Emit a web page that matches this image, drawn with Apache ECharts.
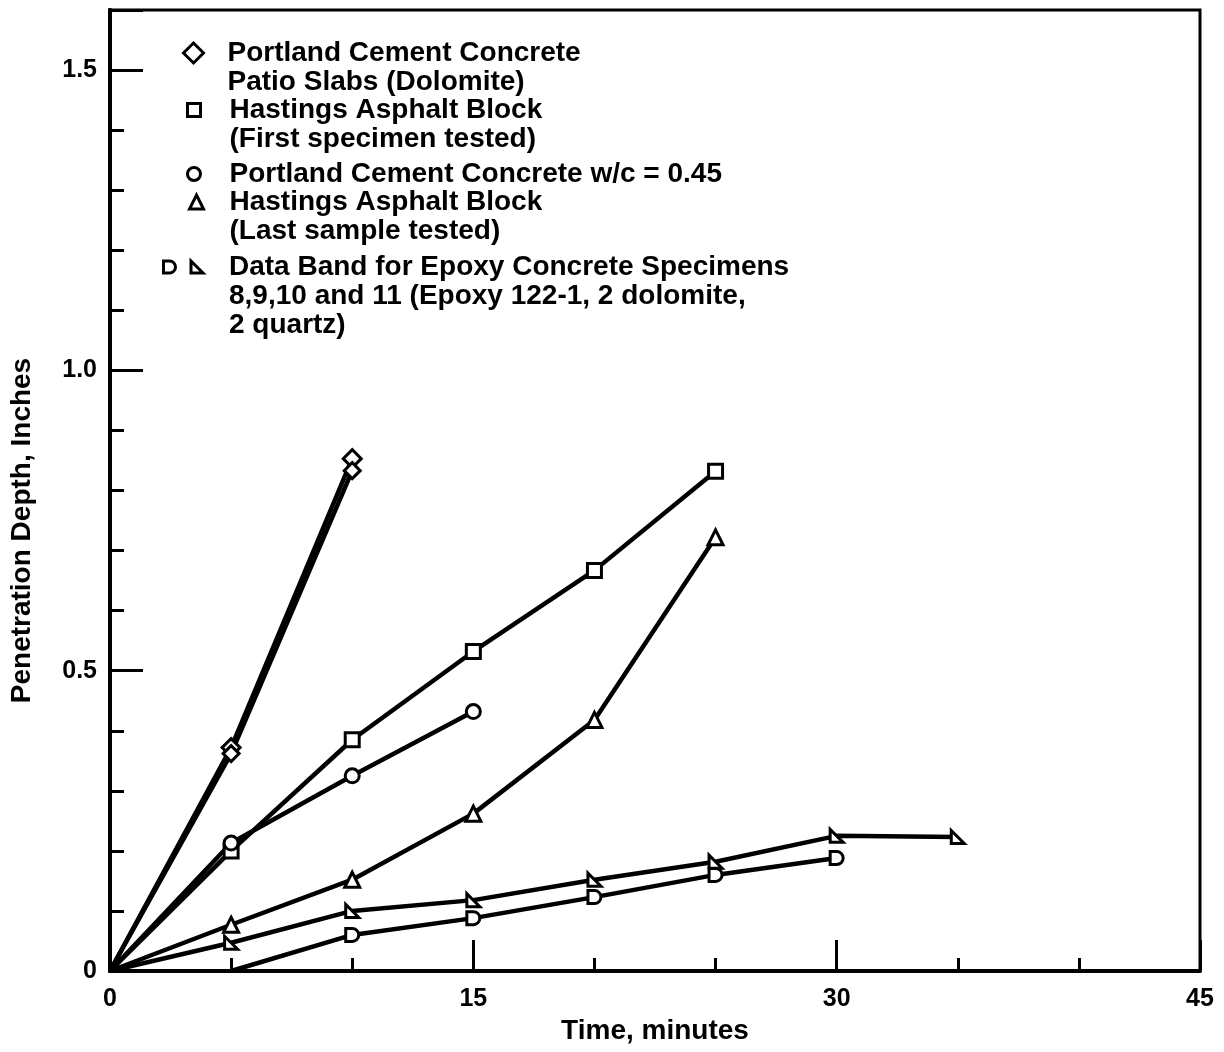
<!DOCTYPE html>
<html>
<head>
<meta charset="utf-8">
<script src="https://cdn.jsdelivr.net/npm/echarts@6/dist/echarts.min.js"></script>
<style>
html,body{margin:0;padding:0;background:#fff;}
#chart{width:1224px;height:1052px;}
</style>
</head>
<body>
<div id="chart"></div>
<script>
// ---- data ----
var xTicks = [0, 15, 30, 45];
var yTicks = ['0', '0.5', '1.0', '1.5'];

var patioA = [[0, 0], [5, 0.372], [10, 0.853]];
var patioB = [[0, 0], [5, 0.362], [10, 0.833]];
var hastingsFirst = [[0, 0], [5, 0.2], [10, 0.385], [15, 0.532], [20, 0.667], [25, 0.832]];
var pccWc045 = [[0, 0], [5, 0.213], [10, 0.325], [15, 0.432]];
var hastingsLast = [[0, 0], [5, 0.077], [10, 0.152], [15, 0.262], [20, 0.418], [25, 0.722]];
var epoxyUpper = [[0, 0], [5, 0.047], [10, 0.1], [15, 0.118], [20, 0.152], [25, 0.182], [30, 0.225], [35, 0.223]];
var epoxyLower = [[5, 0], [10, 0.06], [15, 0.088], [20, 0.123], [25, 0.16], [30, 0.188]];

var seriesNames = ['patioA', 'patioB', 'hastingsFirst', 'pccWc045', 'hastingsLast', 'epoxyUpper', 'epoxyLower'];
var legendLabels = {
  patioA: 'Portland Cement Concrete\nPatio Slabs (Dolomite)',
  hastingsFirst: 'Hastings Asphalt Block\n(First specimen tested)',
  pccWc045: 'Portland Cement Concrete w/c = 0.45',
  hastingsLast: 'Hastings Asphalt Block\n(Last sample tested)',
  epoxyUpper: 'Data Band for Epoxy Concrete Specimens\n8,9,10 and 11 (Epoxy 122-1, 2 dolomite,\n2 quartz)',
  epoxyLower: ''
};
var xAxisTitle = 'Time, minutes';
var yAxisTitle = 'Penetration Depth, Inches';

// ---- styling ----
var FONT = '"Liberation Sans", Arial, sans-serif';
var D_SHAPE = 'path://M0,0 L5,0 A5,5 0 0 1 5,10 L0,10 Z';
var RT_SHAPE = 'path://M0,0 L0,10 L10,10 Z';
var LH = 29;

// first point of each curve (the start of the test) carries no marker
function noFirstMarker(data) {
  return data.map(function (p, i) {
    return i === 0 ? { value: p, symbolSize: 0 } : p;
  });
}

function lineSeries(name, data, symbol, size) {
  return {
    name: name, type: 'line', data: noFirstMarker(data),
    symbol: symbol, symbolSize: size, showAllSymbol: true,
    lineStyle: { color: '#000', width: 4.5 },
    itemStyle: { color: '#fff', borderColor: '#000', borderWidth: 3 },
    emphasis: { disabled: true },
    z: 3
  };
}

function legendText(name) {
  var t = legendLabels[name];
  if (!t) return '';
  var n = t.split('\n').length;
  var pre = '';
  for (var i = 1; i < n; i++) pre += '\n';
  return pre + t;
}

function mkLegend(entries, left, firstLineY, nLines, gap) {
  return {
    left: left,
    top: firstLineY - (nLines - 1) * LH - LH / 2,
    padding: 0,
    orient: 'horizontal',
    itemGap: gap || 10,
    selectedMode: false,
    itemWidth: entries[0].w, itemHeight: entries[0].w,
    itemStyle: { color: '#fff', borderColor: '#000', borderWidth: 3 },
    textStyle: { fontFamily: FONT, fontSize: 28, fontWeight: 'bold', color: '#000', lineHeight: LH },
    formatter: legendText,
    data: entries.map(function (e) {
      return { name: e.name, icon: e.icon, textStyle: { padding: [0, 0, 0, e.pad] } };
    })
  };
}

var option = {
  animation: false,
  backgroundColor: '#fff',
  grid: { left: 110, right: 24, top: 10, bottom: 81, outerBoundsMode: 'none', containLabel: false,
    show: true, borderColor: '#000', borderWidth: 3, backgroundColor: 'transparent' },
  legend: [
    mkLegend([{ name: 'patioA', icon: 'diamond', w: 20, pad: 19 }], 182, 53, 2),
    mkLegend([{ name: 'hastingsFirst', icon: 'rect', w: 13, pad: 24 }], 186, 110, 2),
    mkLegend([{ name: 'pccWc045', icon: 'circle', w: 13, pad: 24 }], 186, 174, 1),
    mkLegend([{ name: 'hastingsLast', icon: 'triangle', w: 14, pad: 21 }], 188, 202, 2),
    mkLegend([{ name: 'epoxyLower', icon: D_SHAPE, w: 12, pad: 0 }, { name: 'epoxyUpper', icon: RT_SHAPE, w: 12, pad: 21 }], 162, 267, 3, 9)
  ],
  xAxis: {
    type: 'value', min: xTicks[0], max: xTicks[xTicks.length - 1], interval: 15,
    name: xAxisTitle, nameLocation: 'middle', nameGap: 45,
    nameTextStyle: { fontFamily: FONT, fontSize: 28, fontWeight: 'bold', color: '#000' },
    axisLine: { show: true, lineStyle: { color: '#000', width: 4 } },
    axisTick: { show: true, inside: true, length: 31, lineStyle: { color: '#000', width: 3 } },
    minorTick: { show: true, splitNumber: 3, length: 13, lineStyle: { color: '#000', width: 3 } },
    splitLine: { show: false },
    axisLabel: { margin: 16, fontFamily: FONT, fontSize: 25, fontWeight: 'bold', color: '#000',
      formatter: function (v) { return xTicks.indexOf(v) >= 0 ? String(v) : ''; } }
  },
  yAxis: [
    {
      type: 'value', min: 0, max: 1.6, interval: 0.1,
      name: yAxisTitle, nameLocation: 'middle', nameGap: 74, nameRotate: 90,
      nameTextStyle: { fontFamily: FONT, fontSize: 28, fontWeight: 'bold', color: '#000', padding: [0, 80, 0, 0] },
      axisLine: { show: true, lineStyle: { color: '#000', width: 4 } },
      axisTick: { show: true, inside: true, length: 14, lineStyle: { color: '#000', width: 3 } },
      splitLine: { show: false },
      axisLabel: { margin: 13, fontFamily: FONT, fontSize: 25, fontWeight: 'bold', color: '#000',
        formatter: function (v) {
          var k = Math.round(v * 2);
          if (Math.abs(v * 2 - k) < 1e-6 && k < yTicks.length) return yTicks[k];
          return '';
        } }
    },
    {
      type: 'value', min: 0, max: 1.6, interval: 0.5, position: 'left', offset: 0,
      axisLine: { show: true, lineStyle: { color: '#000', width: 4 } },
      axisTick: { show: true, inside: true, length: 33, lineStyle: { color: '#000', width: 3 } },
      splitLine: { show: false },
      axisLabel: { show: false }
    }
  ],
  series: [
    lineSeries('patioA', patioA, 'diamond', 18),
    lineSeries('patioB', patioB, 'diamond', 16),
    lineSeries('hastingsFirst', hastingsFirst, 'rect', 14),
    lineSeries('pccWc045', pccWc045, 'circle', 14),
    lineSeries('hastingsLast', hastingsLast, 'triangle', 15),
    lineSeries('epoxyUpper', epoxyUpper, RT_SHAPE, 13),
    lineSeries('epoxyLower', epoxyLower, D_SHAPE, 13)
  ]
};

var chart = echarts.init(document.getElementById('chart'), null, { renderer: 'canvas' });
chart.setOption(option);
</script>
</body>
</html>
